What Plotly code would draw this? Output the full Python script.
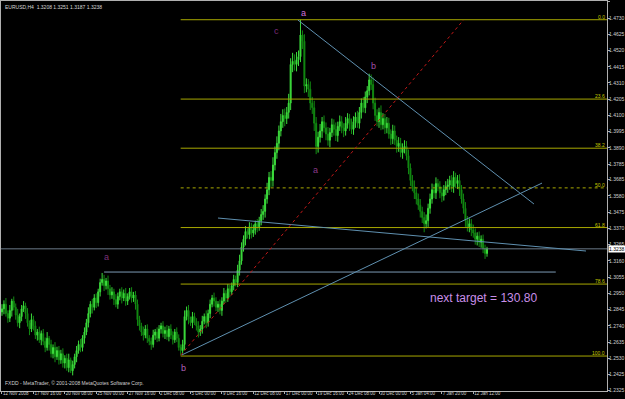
import plotly.graph_objects as go

# ---------------- data (EURUSD H4, prices in pips x 1e-4) ----------------
closes = [
    12850, 12880, 12820, 12790, 12840, 12900, 12860, 12810, 12760, 12800,
    12850, 12870, 12820, 12760, 12720, 12780, 12740, 12680, 12700, 12650,
    12690, 12640, 12600, 12660, 12620, 12560, 12600, 12540, 12580, 12520,
    12560, 12500, 12530, 12470, 12520, 12450, 12490, 12540, 12580, 12620,
    12600, 12660, 12700, 12760, 12820, 12880, 12860, 12920, 12890, 12960,
    13020, 13040, 13000, 13030, 12980, 12940, 12960, 12910, 12880, 12930,
    12960, 12920, 12950, 12900, 12930, 12960, 12920, 12940, 12880, 12780,
    12740, 12700, 12680, 12720, 12660, 12640, 12620, 12680, 12700, 12660,
    12720, 12740, 12690, 12710, 12670, 12720, 12680, 12650, 12700, 12660,
    12600, 12580, 12620, 12800, 12840, 12780, 12760, 12800, 12770, 12740,
    12700, 12720, 12770, 12800, 12760, 12820, 12880, 12920, 12900, 12860,
    12880, 12840, 12900, 12950, 12920, 12980, 12960, 13000, 13040, 13020,
    13100, 13160, 13250, 13300, 13350, 13330, 13380, 13340, 13360, 13400,
    13380, 13420, 13460, 13480, 13560, 13620, 13700, 13680, 13780, 13860,
    13920, 14000, 14060, 14100, 14080, 14120, 14180, 14430, 14450, 14430,
    14460, 14480, 14620, 14580, 14290, 14300, 14270, 14180, 14150, 14050,
    13900, 13960, 14000, 14060, 14020, 13980, 13940, 13990, 14040, 14010,
    13970, 14030, 14060, 14020, 14000, 14050, 14080, 14040, 14010, 14060,
    14090, 14050, 14120, 14180, 14150, 14220, 14260, 14330, 14300, 14180,
    14100, 14060, 14120, 14040, 14080, 14020, 14050, 13980, 13950, 14000,
    13940, 13900, 13920, 13860, 13890, 13900, 13840, 13760, 13680, 13640,
    13600, 13560, 13520, 13480, 13440, 13400, 13420, 13500, 13560, 13620,
    13600, 13660, 13640, 13600, 13580, 13620, 13640, 13650, 13680, 13640,
    13700, 13660, 13680, 13620, 13560, 13500, 13420, 13380, 13400, 13360,
    13340, 13300, 13320, 13280, 13300, 13240, 13208, 13238,
]
first_open = 12830
upper_wick = [
    30, 25, 40, 20, 35, 15, 30, 25, 40, 20,
    25, 30, 20, 35, 15, 40, 25, 30, 20, 35,
    20, 30, 25, 40, 15, 30, 20, 35, 25, 30,
    25, 35, 20, 30, 40, 15, 25, 20, 30, 25,
    35, 20, 30, 25, 40, 20, 35, 25, 30, 20,
    25, 42, 30, 20, 35, 25, 30, 20, 35, 25,
    20, 30, 25, 35, 20, 25, 30, 20, 25, 30,
    25, 20, 35, 25, 30, 20, 25, 35, 20, 30,
    25, 20, 30, 25, 35, 20, 30, 25, 20, 30,
    25, 20, 30, 40, 25, 35, 20, 30, 25, 20,
    30, 25, 35, 20, 40, 25, 30, 20, 35, 25,
    20, 30, 25, 35, 20, 30, 25, 20, 30, 25,
    35, 40, 30, 25, 35, 20, 30, 25, 35, 20,
    30, 25, 35, 40, 30, 45, 35, 40, 50, 40,
    45, 35, 50, 40, 45, 35, 60, 40, 55, 45,
    50, 40, 99, 30, 45, 40, 35, 50, 40, 45,
    40, 35, 45, 30, 40, 35, 45, 30, 40, 35,
    45, 30, 40, 35, 30, 40, 35, 30, 40, 35,
    30, 40, 35, 30, 40, 35, 30, 40, 35, 45,
    35, 40, 30, 45, 35, 30, 40, 35, 30, 40,
    35, 30, 40, 35, 30, 40, 35, 40, 30, 35,
    40, 30, 35, 40, 30, 35, 40, 30, 35, 40,
    35, 40, 30, 35, 40, 30, 35, 40, 30, 35,
    40, 30, 35, 40, 30, 35, 40, 30, 35, 30,
    35, 30, 25, 30, 25, 30, 25, 13,
]
lower_wick = [
    25, 35, 20, 30, 25, 40, 20, 30, 25, 35,
    30, 20, 35, 25, 40, 20, 30, 25, 35, 20,
    35, 25, 30, 20, 40, 25, 30, 35, 20, 30,
    25, 30, 35, 20, 30, 15, 30, 25, 35, 20,
    30, 25, 35, 20, 30, 25, 40, 20, 35, 25,
    30, 20, 35, 25, 40, 30, 25, 35, 20, 30,
    25, 35, 20, 30, 25, 20, 30, 25, 35, 40,
    30, 25, 35, 20, 30, 25, 35, 20, 30, 25,
    20, 30, 25, 35, 20, 30, 25, 30, 20, 25,
    20, 30, 20, 35, 25, 30, 20, 35, 25, 30,
    35, 25, 30, 20, 35, 25, 30, 20, 35, 25,
    30, 25, 35, 20, 30, 25, 35, 20, 30, 25,
    30, 35, 25, 30, 40, 25, 30, 35, 25, 30,
    35, 25, 30, 35, 40, 30, 35, 45, 40, 35,
    40, 45, 35, 40, 50, 35, 40, 45, 50, 40,
    45, 40, 35, 50, 45, 40, 50, 45, 40, 50,
    50, 40, 35, 45, 30, 40, 35, 45, 30, 40,
    35, 40, 30, 35, 40, 30, 35, 40, 30, 35,
    40, 30, 35, 40, 30, 35, 40, 30, 35, 40,
    35, 30, 40, 35, 30, 40, 35, 30, 40, 35,
    30, 40, 35, 30, 40, 35, 30, 40, 35, 30,
    40, 35, 30, 40, 35, 55, 30, 40, 35, 30,
    35, 40, 30, 35, 40, 30, 35, 40, 30, 35,
    40, 30, 35, 40, 30, 35, 40, 30, 35, 40,
    30, 35, 40, 30, 35, 30, 35, 21,
]

time_labels = ["12 Nov 2008", "17 Nov 16:00", "20 Nov 08:00", "25 Nov 00:00",
               "27 Nov 16:00", "2 Dec 08:00", "5 Dec 00:00", "9 Dec 16:00",
               "12 Dec 08:00", "17 Dec 00:00", "19 Dec 16:00", "24 Dec 08:00",
               "30 Dec 00:00", "5 Jan 04:00", "7 Jan 20:00", "12 Jan 12:00"]
bars_per_label = 16

price_ticks = [1.4835, 1.4730, 1.4625, 1.4520, 1.4415, 1.4310, 1.4205, 1.4100,
               1.3995, 1.3890, 1.3785, 1.3685, 1.3580, 1.3475, 1.3370, 1.3265,
               1.3160, 1.3055, 1.2950, 1.2845, 1.2740, 1.2635, 1.2530, 1.2425,
               1.2325]

fib_high = 1.4719
fib_low = 1.2545
fib_ratios = [0.0, 23.6, 38.2, 50.0, 61.8, 78.6, 100.0]
fib_start_bar = 91

current_price = 1.3238
a_level = 1.3088
a_level_bars = [52, 282]

# trend lines: (bar0, price0, bar1, price1)
trend_lines = [
    (150.7, 1.4717, 270.9, 1.3528),
    (91.6, 1.2552, 275.0, 1.3663),
    (110.0, 1.3437, 297.4, 1.3224),
]
red_line = (91.0, 1.2550, 235.0, 1.4717)

wave_labels = [  # (text, bar, price, color)
    ("a", 153.3, 1.4762, "#d070d8"),
    ("c", 140.0, 1.4646, "#7a2a7a"),
    ("b", 189.4, 1.4420, "#a050a8"),
    ("a", 159.4, 1.3747, "#8a3a8a"),
    ("a", 53.0, 1.3185, "#7a3078"),
    ("b", 92.2, 1.2468, "#b060b8"),
]
target_text = "next target = 130.80"
target_pos = (245.4, 1.2920)

header = "EURUSD,H4  1.3208 1.3251 1.3187 1.3238"
footer = "FXDD - MetaTrader, \u00a9 2001-2008 MetaQuotes Software Corp."

# ---------------- build ----------------
n = len(closes)
idx = list(range(n))
opens = [first_open] + closes[:-1]
highs = [max(o, c) + u for o, c, u in zip(opens, closes, upper_wick)]
lows = [min(o, c) - d for o, c, d in zip(opens, closes, lower_wick)]
sc = 1e-4
O = [v * sc for v in opens]
H = [v * sc for v in highs]
L = [v * sc for v in lows]
C = [v * sc for v in closes]

X_MIN, X_MAX = -0.5, 308.1
Y_MIN, Y_MAX = 1.2319, 1.4840
FONT_S = "Liberation Sans, Arial"

fig = go.Figure()
fig.add_trace(go.Candlestick(
    x=idx, open=O, high=H, low=L, close=C,
    increasing=dict(line=dict(color="#3cdc3c", width=1), fillcolor="#3cdc3c"),
    decreasing=dict(line=dict(color="#128a12", width=1), fillcolor="#128a12"),
    whiskerwidth=0, showlegend=False, hoverinfo="skip",
))

shapes = []
fib_col = "#a8a800"
for r in fib_ratios:
    lvl = fib_high - (fib_high - fib_low) * r / 100.0
    shapes.append(dict(type="line", xref="x", yref="y", x0=fib_start_bar, x1=X_MAX,
                       y0=lvl, y1=lvl,
                       line=dict(color=fib_col, width=1, dash="dot" if r == 50.0 else "solid")))
shapes.append(dict(type="line", xref="x", yref="y", x0=X_MIN, x1=X_MAX,
                   y0=current_price, y1=current_price,
                   line=dict(color="#6a7a88", width=1)))
shapes.append(dict(type="line", xref="x", yref="y", x0=a_level_bars[0], x1=a_level_bars[1],
                   y0=a_level, y1=a_level, line=dict(color="#7c9ab4", width=1)))
for (b0, p0, b1, p1) in trend_lines:
    shapes.append(dict(type="line", xref="x", yref="y", x0=b0, y0=p0, x1=b1, y1=p1,
                       line=dict(color="#5f90b0", width=1)))
b0, p0, b1, p1 = red_line
shapes.append(dict(type="line", xref="x", yref="y", x0=b0, y0=p0, x1=b1, y1=p1,
                   line=dict(color="#c01818", width=1, dash="dot")))

ann = []
for r in fib_ratios:
    lvl = fib_high - (fib_high - fib_low) * r / 100.0
    ann.append(dict(x=X_MAX, y=lvl, xref="x", yref="y", text=f"{r:.1f}",
                    showarrow=False, xanchor="right", yanchor="bottom", yshift=-2,
                    font=dict(family=FONT_S, size=5, color="#c8c800")))
for (t, b, p, col) in wave_labels:
    ann.append(dict(x=b, y=p, xref="x", yref="y", text=t, showarrow=False,
                    font=dict(family="Liberation Sans, Arial", size=9, color=col)))
ann.append(dict(x=target_pos[0], y=target_pos[1], xref="x", yref="y", text=target_text,
                showarrow=False, font=dict(family="Liberation Sans, Arial", size=12, color="#c98ee8")))
ann.append(dict(x=0.004, y=0.997, xref="paper", yref="paper", text=header, showarrow=False,
                xanchor="left", yanchor="top",
                font=dict(family=FONT_S, size=5, color="#d8d8d8")))
ann.append(dict(x=0.004, y=0.007, xref="paper", yref="paper", text=footer, showarrow=False,
                xanchor="left", yanchor="bottom",
                font=dict(family=FONT_S, size=5, color="#d0d0d0")))
ann.append(dict(x=1.0, y=current_price, xref="paper", yref="y", text="1.3238", showarrow=False,
                xanchor="left", xshift=1, bgcolor="#ffffff",
                font=dict(family=FONT_S, size=5, color="#000000"),
                borderpad=0))

fig.update_layout(
    width=625, height=399,
    margin=dict(l=1, r=18, t=1, b=8, autoexpand=False),
    paper_bgcolor="#000000", plot_bgcolor="#000000",
    shapes=shapes, annotations=ann,
    showlegend=False,
    xaxis=dict(range=[X_MIN, X_MAX], rangeslider=dict(visible=False),
               showgrid=False, zeroline=False, automargin=False,
               showline=True, linecolor="#b0b0b0", linewidth=1, mirror=True,
               tickvals=[k * bars_per_label for k in range(len(time_labels))],
               ticktext=time_labels, ticks="outside", ticklen=2, tickcolor="#b0b0b0",
               tickangle=0, ticklabelposition="outside right", ticklabelstandoff=-2,
               tickfont=dict(family=FONT_S, size=4.5, color="#d0d0d0")),
    yaxis=dict(range=[Y_MIN, Y_MAX], side="right", showgrid=False, zeroline=False,
               automargin=False,
               showline=True, linecolor="#b0b0b0", linewidth=1, mirror=True,
               tickvals=price_ticks, ticktext=[f"{v:.4f}" for v in price_ticks],
               ticks="outside", ticklen=2, tickcolor="#b0b0b0", ticklabelstandoff=-2,
               tickfont=dict(family=FONT_S, size=5, color="#d0d0d0")),
)

fig.write_html("out.html")
